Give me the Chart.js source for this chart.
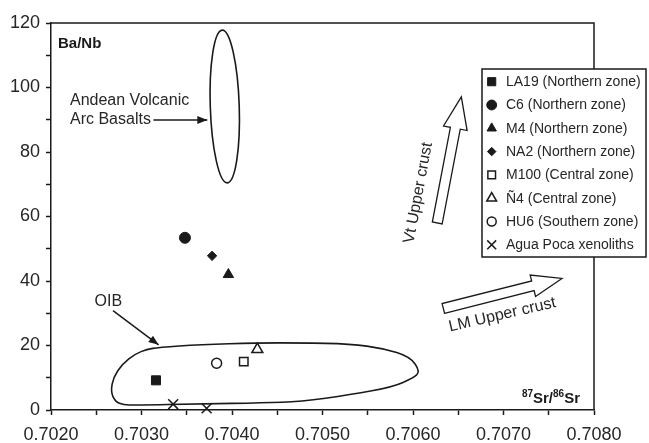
<!DOCTYPE html>
<html>
<head>
<meta charset="utf-8">
<script src="https://cdn.jsdelivr.net/npm/chart.js@4.4.1/dist/chart.umd.min.js"></script>
<style>
  html, body { margin: 0; padding: 0; background: #fff; }
  canvas { display: block; }
</style>
</head>
<body>
<canvas id="myChart" width="649" height="443"></canvas>
<script>
// samples, 87Sr/86Sr (x) and Ba/Nb (y)
const sampleNames = [
    'LA19 (Northern zone)',
    'C6 (Northern zone)',
    'M4 (Northern zone)',
    'NA2 (Northern zone)',
    'M100 (Central zone)',
    '\u00D14 (Central zone)',
    'HU6 (Southern zone)',
    'Agua Poca xenoliths'
];
const srRatio = [[0.70316], [0.70348], [0.70396], [0.70378], [0.70413], [0.70428], [0.70383], [0.70335, 0.70372]];
const baNb    = [[9.2],     [53.4],    [42.0],    [47.8],    [15.0],    [18.8],    [14.5],    [1.8, 0.5]];

// OIB field outline (Sr, Ba/Nb)
const oibSr   = [0.703186, 0.70365, 0.70428, 0.704755, 0.70531, 0.70567, 0.70597, 0.70608, 0.70600, 0.70578, 0.70531, 0.704755, 0.70435, 0.70365, 0.70293, 0.70280, 0.70271, 0.70266, 0.70269, 0.70279, 0.70293, 0.70306];
const oibBaNb = [19.4,     20.3,    20.8,    20.8,     20.5,    19.1,    16.5,    11.9,    9.9,     7.2,     4.7,     2.6,      2.2,     1.9,     1.55,    1.55,    2.6,     5.7,     10.2,    14.3,    17.4,    18.8];

// Andean volcanic arc basalts field: centre and half sizes
const arcCentre = [0.70392, 94.1];
const arcHalf   = [0.00016, 23.7];

const xTicks = { min: 0.7020, max: 0.7080, step: 0.0005 };
const yTicks = { min: 0, max: 120, step: 10 };

const markerStyles = ['rect', 'circle', 'triangle', 'rectRot', 'rect', 'triangle', 'circle', 'crossRot'];
const markerFilled = [true, true, true, true, false, false, false, false];
const markerSizes  = [6.4, 5.5, 6, 4.7, 6, 6.3, 5, 7];

const FONT = '"Liberation Sans", Arial, sans-serif';
const INK = '#1a1a1a';
const TEXT = '#262626';

const datasets = sampleNames.map((name, i) => ({
    label: name,
    data: srRatio[i].map((v, j) => ({ x: v, y: baNb[i][j] })),
    pointStyle: markerStyles[i],
    pointRadius: markerSizes[i],
    pointHoverRadius: markerSizes[i],
    pointBackgroundColor: markerFilled[i] ? INK : '#fff',
    pointBorderColor: INK,
    pointBorderWidth: markerFilled[i] ? 1 : 1.5,
    clip: false
}));

function toPx(chart, x, y) {
    return [chart.scales.x.getPixelForValue(x), chart.scales.y.getPixelForValue(y)];
}

function lineArrow(ctx, x1, y1, x2, y2) {
    ctx.beginPath();
    ctx.moveTo(x1, y1);
    ctx.lineTo(x2, y2);
    ctx.stroke();
    const a = Math.atan2(y2 - y1, x2 - x1), L = 10, W = 4;
    ctx.beginPath();
    ctx.moveTo(x2, y2);
    ctx.lineTo(x2 - L * Math.cos(a) + W * Math.sin(a), y2 - L * Math.sin(a) - W * Math.cos(a));
    ctx.lineTo(x2 - L * Math.cos(a) - W * Math.sin(a), y2 - L * Math.sin(a) + W * Math.cos(a));
    ctx.closePath();
    ctx.fill();
}

function blockArrow(ctx, bx, by, tx, ty, shaft, head, headLen) {
    const len = Math.hypot(tx - bx, ty - by);
    const ux = (tx - bx) / len, uy = (ty - by) / len;
    const nx = -uy, ny = ux;
    const kx = tx - ux * headLen, ky = ty - uy * headLen;
    const s = shaft / 2, h = head / 2;
    ctx.beginPath();
    ctx.moveTo(bx + nx * s, by + ny * s);
    ctx.lineTo(kx + nx * s, ky + ny * s);
    ctx.lineTo(kx + nx * h, ky + ny * h);
    ctx.lineTo(tx, ty);
    ctx.lineTo(kx - nx * h, ky - ny * h);
    ctx.lineTo(kx - nx * s, ky - ny * s);
    ctx.lineTo(bx - nx * s, by - ny * s);
    ctx.closePath();
    ctx.fillStyle = '#fff';
    ctx.fill();
    ctx.stroke();
}

function rotatedText(ctx, text, x, y, deg) {
    ctx.save();
    ctx.translate(x, y);
    ctx.rotate(deg * Math.PI / 180);
    ctx.textAlign = 'center';
    ctx.textBaseline = 'middle';
    ctx.fillText(text, 0, 0);
    ctx.restore();
}

const fieldsPlugin = {
    id: 'fields',
    beforeDatasetsDraw(chart) {
        const ctx = chart.ctx;
        const area = chart.chartArea;
        ctx.save();
        ctx.strokeStyle = INK;
        ctx.fillStyle = TEXT;

        // top and right frame
        ctx.lineWidth = 1.5;
        ctx.beginPath();
        ctx.moveTo(area.left, area.top);
        ctx.lineTo(area.right, area.top);
        ctx.lineTo(area.right, area.bottom);
        ctx.stroke();

        // OIB field, smoothed closed curve
        const pts = oibSr.map((v, i) => toPx(chart, v, oibBaNb[i]));
        const n = pts.length;
        const mid = (a, b) => [(a[0] + b[0]) / 2, (a[1] + b[1]) / 2];
        ctx.lineWidth = 1.6;
        ctx.beginPath();
        let m = mid(pts[n - 1], pts[0]);
        ctx.moveTo(m[0], m[1]);
        for (let i = 0; i < n; i++) {
            m = mid(pts[i], pts[(i + 1) % n]);
            ctx.quadraticCurveTo(pts[i][0], pts[i][1], m[0], m[1]);
        }
        ctx.closePath();
        ctx.stroke();

        // Andean arc basalts ellipse
        const c = toPx(chart, arcCentre[0], arcCentre[1]);
        const e = toPx(chart, arcCentre[0] + arcHalf[0], arcCentre[1] + arcHalf[1]);
        ctx.beginPath();
        ctx.ellipse(c[0], c[1], Math.abs(e[0] - c[0]), Math.abs(c[1] - e[1]), -0.033, 0, Math.PI * 2);
        ctx.stroke();

        // labels and arrows
        ctx.font = '16px ' + FONT;
        ctx.textAlign = 'left';
        ctx.textBaseline = 'middle';
        let p = toPx(chart, 0.70221, 95.9);
        ctx.fillText('Andean Volcanic', p[0], p[1]);
        p = toPx(chart, 0.70221, 89.9);
        ctx.fillText('Arc Basalts', p[0], p[1]);
        ctx.lineWidth = 1.5;
        ctx.fillStyle = INK;
        let a = toPx(chart, 0.703132, 89.9), b = toPx(chart, 0.703727, 89.9);
        lineArrow(ctx, a[0], a[1], b[0], b[1]);

        ctx.fillStyle = TEXT;
        ctx.textAlign = 'center';
        p = toPx(chart, 0.702634, 33.5);
        ctx.fillText('OIB', p[0], p[1]);
        ctx.fillStyle = INK;
        a = toPx(chart, 0.702685, 30.8);
        b = toPx(chart, 0.703189, 20.2);
        lineArrow(ctx, a[0], a[1], b[0], b[1]);

        // crustal trends
        ctx.lineWidth = 1.3;
        a = toPx(chart, 0.706268, 58.0);
        b = toPx(chart, 0.706534, 97.1);
        blockArrow(ctx, a[0], a[1], b[0], b[1], 10, 24, 32);
        a = toPx(chart, 0.706335, 31.5);
        b = toPx(chart, 0.707646, 40.8);
        blockArrow(ctx, a[0], a[1], b[0], b[1], 10, 22, 30);

        ctx.fillStyle = TEXT;
        ctx.font = '16px ' + FONT;
        p = toPx(chart, 0.706059, 67.3);
        rotatedText(ctx, 'Vt Upper crust', p[0], p[1], -79.5);
        p = toPx(chart, 0.706987, 29.5);
        rotatedText(ctx, 'LM Upper crust', p[0], p[1], -13);

        // axis names
        ctx.fillStyle = INK;
        ctx.font = 'bold 15px ' + FONT;
        ctx.textAlign = 'left';
        ctx.textBaseline = 'middle';
        ctx.fillText('Ba/Nb', area.left + 7, area.top + 21);

        const parts = [['87', 'bold 10px ', -6], ['Sr/', 'bold 15px ', 0], ['86', 'bold 10px ', -6], ['Sr', 'bold 15px ', 0]];
        let total = 0;
        parts.forEach(q => { ctx.font = q[1] + FONT; total += ctx.measureText(q[0]).width; });
        let x = area.right - 14 - total;
        const base = area.bottom - 7;
        ctx.textBaseline = 'alphabetic';
        parts.forEach(q => {
            ctx.font = q[1] + FONT;
            ctx.fillText(q[0], x, base + q[2]);
            x += ctx.measureText(q[0]).width;
        });
        ctx.restore();
    },
    afterDraw(chart) {
        const ctx = chart.ctx;
        const box = { left: 482, top: 69, right: 646, bottom: 257 };
        ctx.save();
        ctx.fillStyle = '#fff';
        ctx.strokeStyle = INK;
        ctx.lineWidth = 1.5;
        ctx.fillRect(box.left, box.top, box.right - box.left, box.bottom - box.top);
        ctx.strokeRect(box.left, box.top, box.right - box.left, box.bottom - box.top);

        ctx.font = '14px ' + FONT;
        ctx.textAlign = 'left';
        ctx.textBaseline = 'middle';
        chart.data.datasets.forEach((ds, i) => {
            const y = 81.7 + i * 23.3;
            ctx.fillStyle = ds.pointBackgroundColor;
            ctx.strokeStyle = ds.pointBorderColor;
            ctx.lineWidth = ds.pointBorderWidth;
            if (Chart.helpers && Chart.helpers.drawPoint) {
                Chart.helpers.drawPoint(ctx, {
                    pointStyle: ds.pointStyle,
                    radius: ds.pointRadius * 0.9,
                    rotation: 0,
                    borderWidth: ds.pointBorderWidth
                }, 491.7, y);
            }
            ctx.fillStyle = TEXT;
            ctx.fillText(ds.label, 506, y + 0.5);
        });
        ctx.restore();
    }
};

const conf = {
    type: 'scatter',
    data: { datasets: datasets },
    options: {
        responsive: false,
        animation: false,
        events: [],
        layout: { padding: { top: 23, right: 55, left: 0, bottom: 0 } },
        plugins: {
            legend: { display: false },
            tooltip: { enabled: false }
        },
        scales: {
            x: {
                type: 'linear',
                min: xTicks.min,
                max: xTicks.max,
                afterFit: s => { s.height = 33; },
                border: { display: true, color: INK, width: 1.5 },
                grid: { drawOnChartArea: false, drawTicks: true, tickLength: 5, color: INK, tickWidth: 1.5 },
                ticks: {
                    stepSize: xTicks.step,
                    autoSkip: false,
                    maxRotation: 0,
                    padding: 9,
                    color: TEXT,
                    font: { family: FONT, size: 18 },
                    callback: v => Math.round(v * 10000) % 10 === 0 ? v.toFixed(4) : ''
                }
            },
            y: {
                type: 'linear',
                min: yTicks.min,
                max: yTicks.max,
                afterFit: s => { s.width = 51; },
                border: { display: true, color: INK, width: 1.5 },
                grid: { drawOnChartArea: false, drawTicks: true, tickLength: 5, color: INK, tickWidth: 1.5 },
                ticks: {
                    stepSize: yTicks.step,
                    autoSkip: false,
                    padding: 6,
                    color: TEXT,
                    font: { family: FONT, size: 18 },
                    callback: v => Math.round(v) % 20 === 0 ? String(Math.round(v)) : ''
                }
            }
        }
    },
    plugins: [fieldsPlugin]
};

const ctx = document.getElementById('myChart').getContext('2d');
const chart = new Chart(ctx, conf);
</script>
</body>
</html>
